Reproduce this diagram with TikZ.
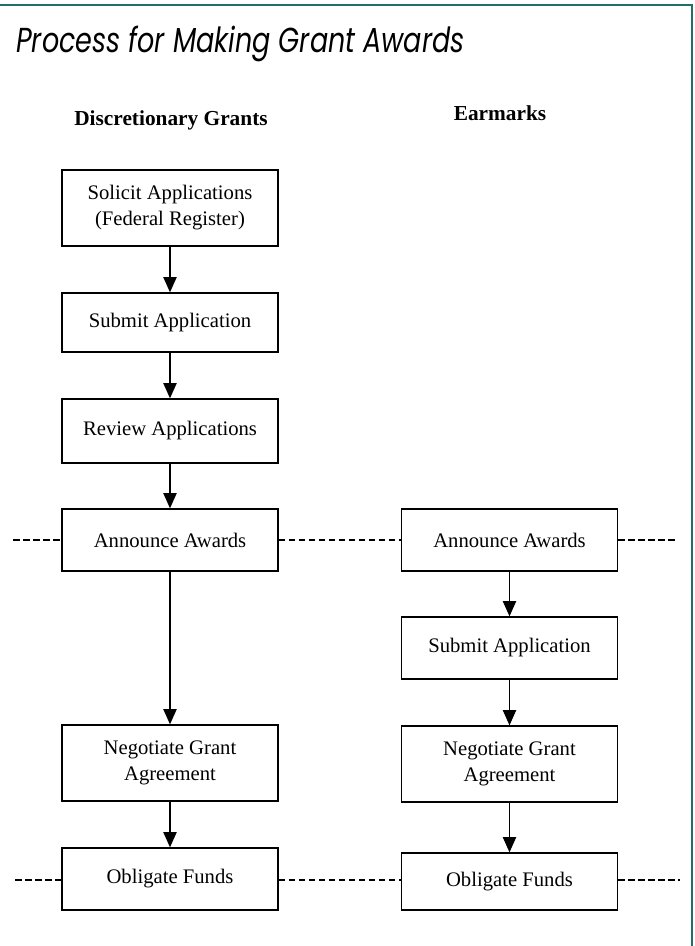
\documentclass[tikz,border=0pt]{standalone}
\usepackage{fontspec}
\setmainfont{Liberation Serif}
\newfontfamily\titlefont{Poppins}
\usetikzlibrary{arrows.meta}
\definecolor{frameteal}{RGB}{30,112,104}
\tikzset{
  box/.style={draw=black, line width=1pt, minimum width=162pt, inner sep=0pt, align=center,
    font=\fontsize{15.5pt}{19.5pt}\selectfont},
  arr/.style={draw=black, line width=1pt, -{Triangle[length=11.5pt,width=10pt]}},
  dashline/.style={draw=black, line width=1pt, dash pattern=on 5pt off 2.5pt},
  heading/.style={font=\fontsize{16pt}{18pt}\selectfont\bfseries, anchor=base},
}
\begin{document}
\begin{tikzpicture}[x=0.75pt,y=-0.75pt]
\useasboundingbox (0,0) rectangle (695,946);
\fill[white] (0,0) rectangle (695,946);
\draw[frameteal, line width=2pt] (0,5) -- (692,5) -- (692,946);

\node[anchor=base west, inner sep=0pt] (title) at (16,52)
  {\scalebox{0.78}[1]{\titlefont\itshape\fontsize{26pt}{30pt}\selectfont Process for Making Grant Awards}};

\node[heading] (hdisc) at (171,125) {Discretionary Grants};
\node[heading] (hear) at (500,120) {Earmarks};

% left column
\node[box, minimum height=57pt] (sol) at (170,208) {Solicit Applications\\(Federal Register)};
\node[box, minimum height=44.25pt] (sub1) at (170,322.5) {Submit Application};
\node[box, minimum height=48pt] (rev) at (170,431) {Review Applications};
\node[box, minimum height=46.5pt] (ann1) at (170,540) {Announce Awards};
\node[box, minimum height=57pt] (neg1) at (170,763) {Negotiate Grant\\Agreement};
\node[box, minimum height=46.5pt] (obl1) at (170,879) {Obligate Funds};

% right column
\node[box, minimum height=46.5pt] (ann2) at (509.5,540) {Announce Awards};
\node[box, minimum height=46.5pt] (sub2) at (509.5,648) {Submit Application};
\node[box, minimum height=57pt] (neg2) at (509.5,764) {Negotiate Grant\\Agreement};
\node[box, minimum height=42.75pt] (obl2) at (509.5,881.5) {Obligate Funds};

% arrows
\draw[arr] (sol) -- (sub1);
\draw[arr] (sub1) -- (rev);
\draw[arr] (rev) -- (ann1);
\draw[arr] (ann1) -- (neg1);
\draw[arr] (neg1) -- (obl1);
\draw[arr] (ann2) -- (sub2);
\draw[arr] (sub2) -- (neg2);
\draw[arr] (neg2) -- (obl2);

% dashed milestone lines
\coordinate (dl1) at (13,540);
\coordinate (dr1) at (678,540);
\coordinate (dl2) at (15,880);
\coordinate (dr2) at (680,880);
\draw[dashline] (dl1) -- (dl1 -| ann1.west);
\draw[dashline] (ann1.east) -- (ann2.west);
\draw[dashline] (dr1 -| ann2.east) -- (dr1);
\draw[dashline] (dl2) -- (dl2 -| obl1.west);
\draw[dashline] (dl2 -| obl1.east) -- (dl2 -| obl2.west);
\draw[dashline] (dr2 -| obl2.east) -- (dr2);
\end{tikzpicture}
\end{document}
